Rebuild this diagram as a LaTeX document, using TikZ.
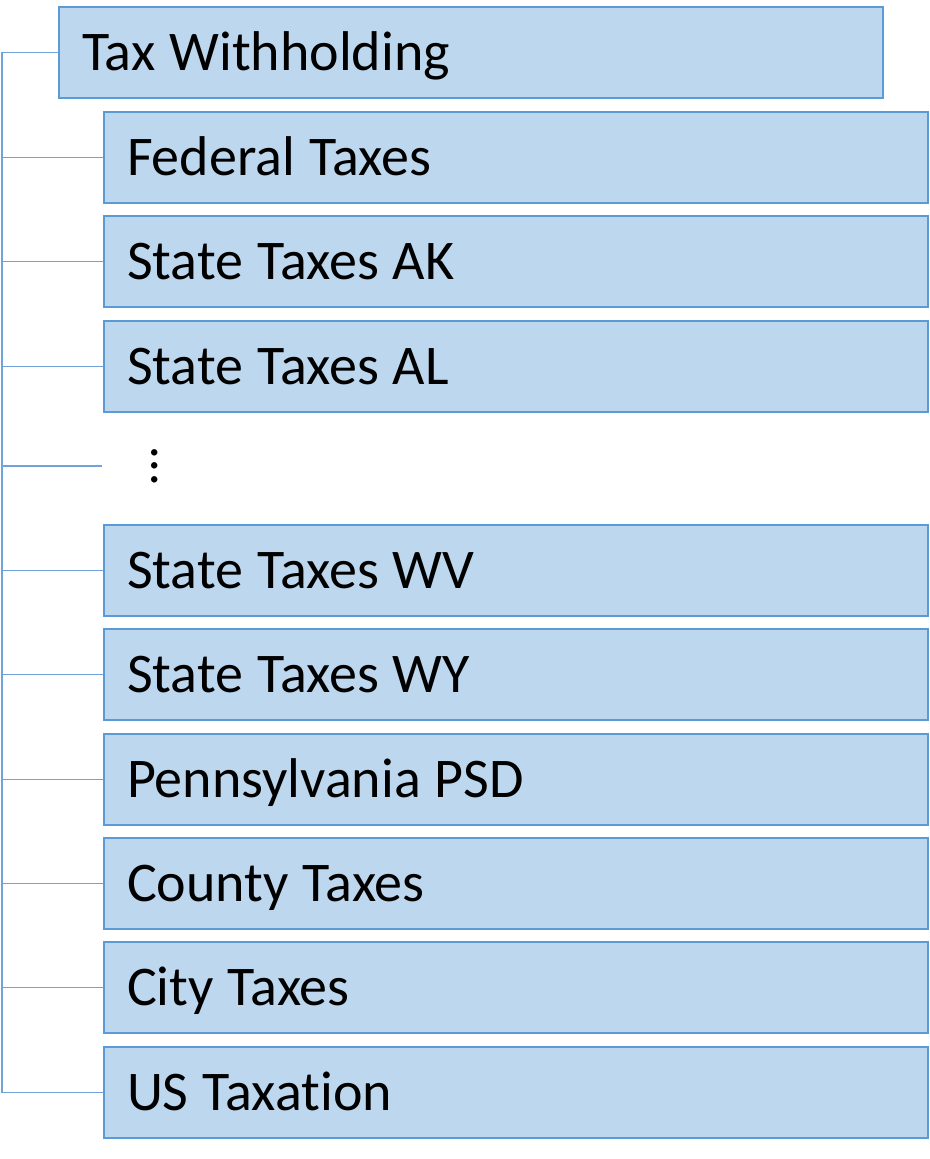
\documentclass[tikz,border=0pt]{standalone}
\usepackage{fontspec}
\setmainfont{Carlito}[Ligatures=NoCommon]
\newcommand\boxfont{\fontsize{42}{50}\selectfont}
\newcommand\tightspace{\spaceskip=0.25em plus 0em\relax}
\definecolor{boxfill}{HTML}{BDD7EE}
\definecolor{boxline}{HTML}{5B9BD5}
\definecolor{conn}{HTML}{6FA3DA}
\begin{document}
\begin{tikzpicture}[x=0.75pt,y=-0.75pt,
  box/.style={draw=boxline, fill=boxfill, line width=1.5pt, rectangle, anchor=north west,
    minimum height=68.25pt, text width=583.5pt, inner xsep=17.25pt, inner ysep=0pt, align=left,
    text height=27pt, text depth=0pt, font=\boxfont, execute at begin node=\tightspace},
  conn/.style={draw=conn, line width=1.1pt}]
\useasboundingbox[fill=white] (0,0) rectangle (929,1159);
\node[box] (root) at (58,6) {Tax Withholding};
\node[box] (fed) at (103,111) {Federal Taxes};
\node[box] (ak) at (103,215) {State Taxes AK};
\node[box] (al) at (103,320) {State Taxes AL};
\node[font=\fontsize{40}{48}\selectfont, inner sep=0pt, rotate=90, text height=0.1em, text depth=0pt] (dots) at (157,466) {...};
\coordinate (dotsend) at (102,466);
\node[box] (wv) at (103,524) {State Taxes WV};
\node[box] (wy) at (103,628) {State Taxes WY};
\node[box] (psd) at (103,733) {Pennsylvania PSD};
\node[box] (county) at (103,837) {County Taxes};
\node[box] (city) at (103,941) {City Taxes};
\node[box] (us) at (103,1046) {US Taxation};
\coordinate (trunk) at (2,0);
\draw[conn] (root.west) -- (trunk |- root.west) -- (trunk |- us.west) -- (us.west);
\foreach \n in {fed,ak,al,wv,wy,psd,county,city}
  \draw[conn] (trunk |- \n.west) -- (\n.west);
\draw[conn] (trunk |- dotsend) -- (dotsend);
\end{tikzpicture}
\end{document}
